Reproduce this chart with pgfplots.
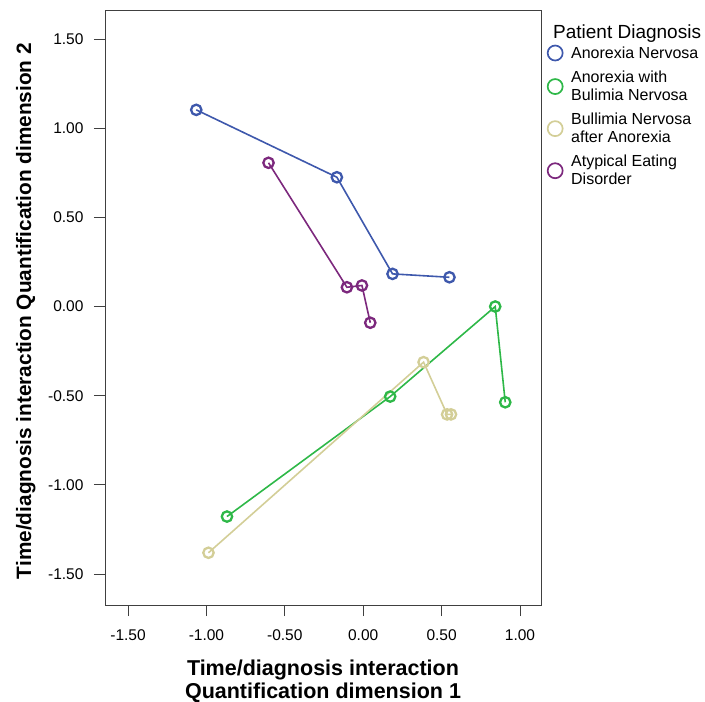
\documentclass[border=0pt]{standalone}
\usepackage{pgfplots}
\pgfplotsset{compat=1.18}
\usepackage{fontspec}
\setmainfont{Liberation Sans}
\definecolor{cblue}{HTML}{3E58AC}
\definecolor{cgreen}{HTML}{2EB848}
\definecolor{cbeige}{HTML}{D3CE97}
\definecolor{cpurple}{HTML}{7C287D}
\begin{document}
\begin{tikzpicture}[x=1bp,y=1bp]
\begin{axis}[
  name=ax,
  scale only axis,
  width=436bp, height=595bp,
  xmin=-1.647, xmax=1.134,
  ymin=-1.674, ymax=1.663,
  xtick={-1.5,-1,-0.5,0,0.5,1},
  ytick={-1.5,-1,-0.5,0,0.5,1,1.5},
  tick align=outside,
  major tick length=11bp,
  xtick pos=bottom, ytick pos=left,
  axis line style={line width=0.8bp, black!75},
  tick style={line width=0.9bp, black!75},
  /pgf/number format/assume math mode=true,
  /pgf/number format/.cd, fixed, fixed zerofill, precision=2, /pgfplots/.cd,
  ticklabel style={font=\fontsize{15.5bp}{18bp}\selectfont},
  xticklabel style={yshift=-10bp},
  yticklabel style={xshift=-7bp},
  xlabel={Time/diagnosis interaction\\Quantification dimension 1},
  xlabel style={at={(axis description cs:0.5,0)}, anchor=north, yshift=-55bp,
    align=center, inner sep=0pt, font=\bfseries\fontsize{21.5bp}{23bp}\selectfont},
  ylabel={Time/diagnosis interaction Quantification dimension 2},
  ylabel style={at={(axis description cs:-0.1697,0.494)}, anchor=base, rotate=0,
    inner sep=0pt, font=\bfseries\fontsize{20.8bp}{24bp}\selectfont},
  legend style={at={(axis description cs:1.008,0.944)}, anchor=north west,
    draw=none, fill=none, font=\fontsize{16bp}{18bp}\selectfont,
    cells={align=left}, row sep=10bp,
    nodes={inner sep=0.5bp},
    /tikz/every odd column/.append style={column sep=8bp}},
  legend cell align=left,
  legend image code/.code={\draw[#1,/tikz/only marks,mark size=7.5bp,mark options={line width=1.7bp}] plot coordinates {(0.25cm,0cm)};},
  every axis plot/.append style={line width=1.6bp, mark=o, mark size=5.2bp, mark options={line width=2.3bp}},
  clip=false,
]
\addplot[cblue] coordinates {(-1.065,1.103) (-0.168,0.725) (0.187,0.183) (0.55,0.164)};
\addlegendentry{Anorexia Nervosa}
\addplot[cgreen] coordinates {(-0.869,-1.178) (0.172,-0.505) (0.842,0.0) (0.906,-0.537)};
\addlegendentry{Anorexia with\\Bulimia Nervosa}
\addplot[cbeige] coordinates {(-0.987,-1.381) (0.385,-0.312) (0.535,-0.605) (0.56,-0.605)};
\addlegendentry{Bullimia Nervosa\\after Anorexia}
\addplot[cpurple] coordinates {(-0.604,0.806) (-0.104,0.108) (-0.008,0.118) (0.045,-0.091)};
\addlegendentry{Atypical Eating\\Disorder}
\node[anchor=west, inner sep=0pt, font=\fontsize{19bp}{21bp}\selectfont] at (axis description cs:1.0275,0.961) {Patient Diagnosis};
\end{axis}
\pgfresetboundingbox
\path[use as bounding box] ([xshift=-105bp,yshift=-97bp]ax.south west) rectangle ([xshift=164bp,yshift=10bp]ax.north east);
\end{tikzpicture}
\end{document}
